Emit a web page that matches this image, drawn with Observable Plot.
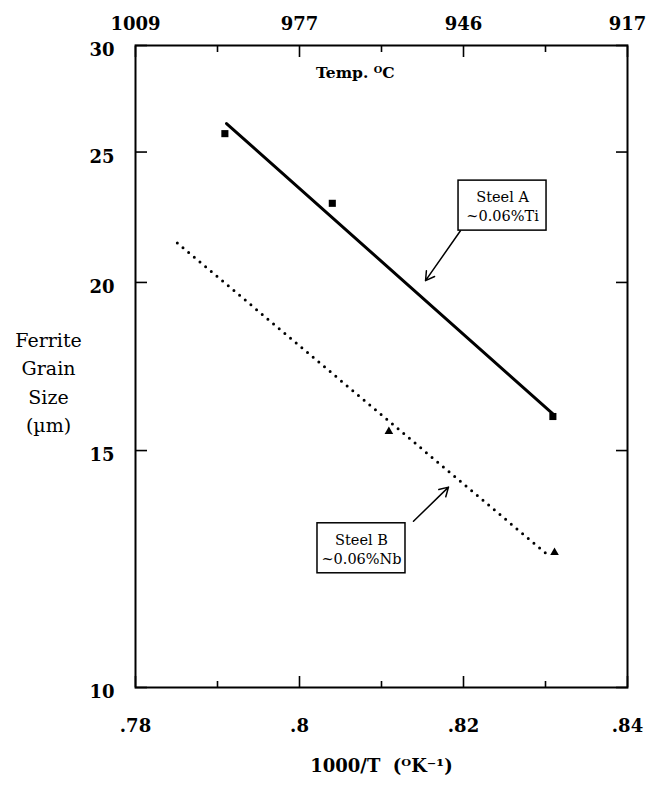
<!DOCTYPE html>
<html>
<head>
<meta charset="utf-8">
<script src="https://cdn.jsdelivr.net/npm/d3@7"></script>
<script src="https://cdn.jsdelivr.net/npm/@observablehq/plot@0.6"></script>
<style>
  body { margin: 0; background: #fff; }
</style>
</head>
<body>
<div id="chart"></div>
<script>
// Steel A (~0.06% Ti): ferrite grain size (µm) against 1000/T
const steelAInvT = [0.7909, 0.8040, 0.8309];
const steelASize = [25.8, 22.9, 15.9];

// Steel B (~0.06% Nb)
const steelBInvT = [0.8109, 0.8311];
const steelBSize = [15.5, 12.6];

// Fitted trend lines, end points
const fitAInvT = [0.7911, 0.8309];
const fitASize = [26.25, 15.97];
const fitBInvT = [0.7851, 0.8306];
const fitBSize = [21.4, 12.5];

// Axis ticks and their labels
const xMajorTicks = [0.78, 0.80, 0.82, 0.84];
const xMinorTicks = [0.79, 0.81, 0.83];
const xTickLabels = [".78", ".8", ".82", ".84"];
const topTickLabels = ["1009", "977", "946", "917"];   // same ticks as °C
const yTicks = [10, 15, 20, 25, 30];
const yTickLabels = ["10", "15", "20", "25", "30"];

// Callout labels
const calloutNames = ["Steel A", "Steel B"];
const calloutAlloys = ["~0.06%Ti", "~0.06%Nb"];

const steelA = steelAInvT.map((x, i) => ({x, y: steelASize[i]}));
const steelB = steelBInvT.map((x, i) => ({x, y: steelBSize[i]}));
const fitA = fitAInvT.map((x, i) => ({x, y: fitASize[i]}));
const fitB = fitBInvT.map((x, i) => ({x, y: fitBSize[i]}));

// callout boxes, anchored at their centres in data space
const callouts = [
  {x: 0.82476, y: 22.81, text: calloutNames[0] + "\n" + calloutAlloys[0]},
  {x: 0.80756, y: 12.69, text: calloutNames[1] + "\n" + calloutAlloys[1]}
];
const pointers = [
  {x1: 0.81963, y1: 21.85, x2: 0.81537, y2: 20.06},
  {x1: 0.81390, y1: 13.29, x2: 0.81817, y2: 14.09}
];

const serif = "'DejaVu Serif', 'Liberation Serif', serif";
const labelOf = (ticks, labels) => d => labels[ticks.indexOf(d)];

const chart = Plot.plot({
  width: 647,
  height: 785,
  marginLeft: 135,
  marginRight: 20,
  marginTop: 45,
  marginBottom: 98,
  style: {fontFamily: serif, fontSize: "18px", color: "black", background: "white"},
  x: {domain: [0.78, 0.84]},
  y: {type: "log", domain: [10, 30]},
  marks: [
    // inward ticks on all four sides
    Plot.axisX(xMajorTicks, {anchor: "bottom", tickSize: -11, strokeWidth: 1.6, tickFormat: () => "", label: null}),
    Plot.axisX(xMinorTicks, {anchor: "bottom", tickSize: -6, strokeWidth: 1.6, tickFormat: () => "", label: null}),
    Plot.axisX(xMajorTicks, {anchor: "top", tickSize: -11, strokeWidth: 1.6, tickFormat: () => "", label: null}),
    Plot.axisX(xMinorTicks, {anchor: "top", tickSize: -6, strokeWidth: 1.6, tickFormat: () => "", label: null}),
    Plot.axisY(yTicks, {anchor: "left", tickSize: -12, strokeWidth: 1.6, tickFormat: () => "", label: null}),
    Plot.axisY(yTicks, {anchor: "right", tickSize: -12, strokeWidth: 1.6, tickFormat: () => "", label: null}),
    // tick labels
    Plot.axisX(xMajorTicks, {anchor: "bottom", tickSize: 0, tickPadding: 32, fontSize: 18, fontWeight: "bold",
      tickFormat: labelOf(xMajorTicks, xTickLabels), label: null}),
    Plot.axisX(xMajorTicks, {anchor: "top", tickSize: 0, tickPadding: 16, fontSize: 18, fontWeight: "bold",
      tickFormat: labelOf(xMajorTicks, topTickLabels), label: null}),
    Plot.axisY(yTicks, {anchor: "left", tickSize: 0, tickPadding: 21, dy: 5, fontSize: 18, fontWeight: "bold",
      tickFormat: labelOf(yTicks, yTickLabels), label: null}),
    Plot.frame({stroke: "black", strokeWidth: 2}),
    // axis titles
    Plot.text(["1000/T  (ᴼK⁻¹)"], {frameAnchor: "bottom", dy: 84, fontSize: 18, fontWeight: "bold"}),
    Plot.text(["Ferrite\nGrain\nSize\n(µm)"], {frameAnchor: "left", textAnchor: "middle", dx: -87, dy: 14,
      fontSize: 19, lineHeight: 1.5}),
    Plot.text(["Temp. ᴼC"], {x: () => 0.8068, y: () => 28.6, fontSize: 15.5, fontWeight: "bold"}),
    // trend lines
    Plot.line(fitA, {x: "x", y: "y", stroke: "black", strokeWidth: 3}),
    Plot.line(fitB, {x: "x", y: "y", stroke: "black", strokeWidth: 3, strokeDasharray: "0,7.4", strokeLinecap: "round"}),
    // measurements
    Plot.dot(steelA, {x: "x", y: "y", symbol: "square", r: 4, fill: "black"}),
    Plot.dot(steelB, {x: "x", y: "y", symbol: "triangle", r: 3.2, fill: "black"}),
    // callouts
    Plot.arrow(pointers, {x1: "x1", y1: "y1", x2: "x2", y2: "y2", stroke: "black", strokeWidth: 1.5, headLength: 10}),
    Plot.rect(callouts, {x1: "x", x2: "x", y1: "y", y2: "y", insetLeft: -44, insetRight: -44, insetTop: -25, insetBottom: -25,
      fill: "white", stroke: "black", strokeWidth: 1.5}),
    Plot.text(callouts, {x: "x", y: "y", text: "text", fontSize: 14.5, lineHeight: 1.3})
  ]
});

document.getElementById("chart").append(chart);
</script>
</body>
</html>
